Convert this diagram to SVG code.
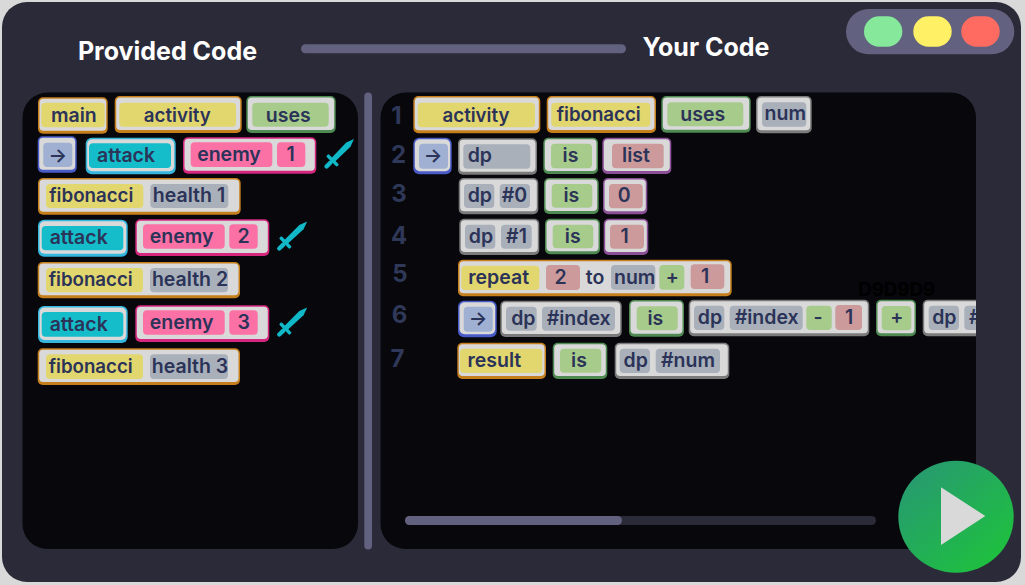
<svg xmlns="http://www.w3.org/2000/svg" width="1025" height="585" viewBox="0 0 1025 585">
<style>
text{font-family:Inter,"Liberation Sans",sans-serif;font-weight:600;font-size:19.5px;fill:#2b3358;text-anchor:middle}
.n{font-size:18.7px}
.title{fill:#fff;font-size:25px;font-weight:700}
.ln{fill:#2f3858;font-size:24px;font-weight:700}
.hex{fill:#000;font-size:18.7px;font-weight:700}
.face{fill:#d9d9d9}
.e-y{fill:#c67f1d}.e-g{fill:#4f8a52}.e-c{fill:#35b6dd}.e-p{fill:#d6277f}.e-s{fill:#7b7b7b}.e-b{fill:#4a5ac6}.e-r{fill:#8a4f96}
.y{fill:#e2d66e}.g{fill:#a7cb8a}.c{fill:#15bdca}.p{fill:#fb70a5}.s{fill:#a9b0ba}.b{fill:#9fb0d2}.r{fill:#cc9a9a}
.panel{fill:#07070c}.bar{fill:#62617f}
</style>
<defs>
<linearGradient id="play" x1="0.1" y1="0.1" x2="0.85" y2="0.9"><stop offset="0" stop-color="#279a70"/><stop offset="1" stop-color="#1ec03f"/></linearGradient>
<clipPath id="rightClip"><rect x="380.500" y="92" width="595.500" height="457" rx="25"/></clipPath>
<g id="sword" fill="#10b8c8"><path d="M10 -2.500L33 -3L41 0L33 3L10 2.500Z"/><rect x="9" y="-7.500" width="3.400" height="15" rx="1.200"/><rect x="0" y="-2.200" width="10" height="4.400" rx="2.200"/></g>
</defs>
<rect width="1025" height="585" fill="#d9d9d9"/>
<rect x="2" y="2" width="1019" height="580" rx="25" fill="#2b2a38"/>
<text class="title" x="167.500" y="60">Provided Code</text>
<rect class="bar" x="301" y="44.300" width="325" height="9" rx="4.500"/>
<text class="title" x="706" y="56">Your Code</text>
<g id="window-controls">
<rect class="bar" x="846" y="9" width="168.300" height="45.300" rx="22.600"/>
<rect x="864" y="16.300" width="38.300" height="30.400" rx="15.200" fill="#86e89a"/>
<rect x="913.300" y="16.300" width="38.400" height="30.400" rx="15.200" fill="#fff066"/>
<rect x="961.300" y="16.300" width="38.400" height="30.400" rx="15.200" fill="#ff6b60"/>
</g>
<rect class="panel" x="22.500" y="92.500" width="335.500" height="456.500" rx="25"/>
<rect class="bar" x="364.300" y="92.500" width="7.700" height="457" rx="3.800"/>
<rect class="panel" x="380.500" y="92.500" width="595.500" height="456.500" rx="25"/>
<g id="line-numbers">
<text class="ln" x="396.500" y="124">1</text><text class="ln" x="398.500" y="163.300">2</text><text class="ln" x="399" y="202">3</text><text class="ln" x="399" y="244">4</text><text class="ln" x="400" y="282.300">5</text><text class="ln" x="399.500" y="323.300">6</text><text class="ln" x="397.500" y="367">7</text>
</g>
<g id="connectors"/>
<g id="left-main"><rect class="e-y" x="38" y="97.300" width="69.700" height="36.400" rx="5"/><rect class="face" x="39.500" y="98.800" width="66.700" height="32" rx="4"/><rect class="y" x="41.300" y="102.700" width="63.400" height="24.600" rx="4"/><text x="73.800" y="122.300">main</text></g>
<g id="left-activity"><rect class="e-y" x="114.700" y="96" width="127" height="37" rx="5"/><rect class="face" x="116.200" y="97.500" width="124" height="32.500" rx="4"/><rect class="y" x="119.300" y="102.700" width="116.700" height="24" rx="4"/><text class="n" x="177.300" y="121.700">activity</text></g>
<g id="left-uses"><rect class="e-g" x="246.300" y="96" width="89.400" height="37" rx="5"/><rect class="face" x="247.800" y="97.500" width="86.400" height="32.500" rx="4"/><rect class="g" x="252.300" y="102.700" width="76.400" height="24" rx="4"/><text x="288.300" y="121.700">uses</text></g>
<g id="left-arrow"><rect class="e-b" x="37.700" y="136.300" width="39" height="36.400" rx="5"/><rect class="face" x="39.200" y="137.800" width="36" height="32" rx="4"/><rect class="b" x="43.300" y="142.700" width="29" height="24.300" rx="4"/><text x="57.800" y="161.500">→</text></g>
<g id="left-attack-1"><rect class="e-c" x="85.700" y="137.700" width="90" height="36.600" rx="6"/><rect class="face" x="87.200" y="139.200" width="87" height="32" rx="5"/><rect class="c" x="89" y="143.300" width="82" height="24.700" rx="4"/><text x="126" y="162">attack</text></g>
<g id="left-enemy-1"><rect class="e-p" x="183" y="137.300" width="133.300" height="36.400" rx="5"/><rect class="face" x="184.500" y="138.800" width="130.300" height="32" rx="4"/><rect class="p" x="190.700" y="142.300" width="81.600" height="24.700" rx="4"/><rect class="p" x="277" y="142.300" width="28.300" height="24.700" rx="4"/><text x="229" y="161">enemy</text><text x="290.500" y="161">1</text></g>
<use href="#sword" id="left-sword-1" transform="translate(325 168) rotate(-45)"/>
<g id="left-fib-1"><rect class="e-y" x="38" y="178" width="202.700" height="36.700" rx="5"/><rect class="face" x="39.500" y="179.500" width="199.700" height="32.200" rx="4"/><rect class="y" x="46" y="184" width="97.300" height="24" rx="4"/><rect class="s" x="150.300" y="184" width="78" height="24" rx="4"/><text class="n" x="91.300" y="202">fibonacci</text><text x="189" y="202">health 1</text></g>
<g id="left-attack-2"><rect class="e-c" x="38" y="219.700" width="89.700" height="37" rx="6"/><rect class="face" x="39.500" y="221.200" width="86.700" height="32.500" rx="5"/><rect class="c" x="41.700" y="226" width="81.600" height="24.300" rx="4"/><text x="78.700" y="244.300">attack</text></g>
<g id="left-enemy-2"><rect class="e-p" x="135.300" y="219.300" width="134" height="36.700" rx="5"/><rect class="face" x="136.800" y="220.800" width="131" height="32.200" rx="4"/><rect class="p" x="143" y="224.300" width="81.700" height="24.400" rx="4"/><rect class="p" x="229.300" y="224.300" width="28.400" height="24.400" rx="4"/><text x="181.700" y="242.700">enemy</text><text x="243.700" y="242.700">2</text></g>
<use href="#sword" id="left-sword-2" transform="translate(277.700 250) rotate(-44)"/>
<g id="left-fib-2"><rect class="e-y" x="37.700" y="262" width="202.300" height="36.300" rx="5"/><rect class="face" x="39.200" y="263.500" width="199.300" height="31.800" rx="4"/><rect class="y" x="46" y="268" width="97" height="24.300" rx="4"/><rect class="s" x="150" y="268" width="78" height="24.300" rx="4"/><text class="n" x="90.700" y="286">fibonacci</text><text x="190" y="286">health 2</text></g>
<g id="left-attack-3"><rect class="e-c" x="38" y="306" width="89.700" height="37" rx="6"/><rect class="face" x="39.500" y="307.500" width="86.700" height="32.500" rx="5"/><rect class="c" x="41.700" y="312" width="81.600" height="24.700" rx="4"/><text x="78.700" y="331">attack</text></g>
<g id="left-enemy-3"><rect class="e-p" x="135.300" y="305.300" width="134" height="36.700" rx="5"/><rect class="face" x="136.800" y="306.800" width="131" height="32.200" rx="4"/><rect class="p" x="143" y="310.300" width="81.700" height="24.400" rx="4"/><rect class="p" x="229.300" y="310.300" width="28.400" height="24.400" rx="4"/><text x="181.700" y="329">enemy</text><text x="243.700" y="329">3</text></g>
<use href="#sword" id="left-sword-3" transform="translate(277.700 336) rotate(-44)"/>
<g id="left-fib-3"><rect class="e-y" x="37.700" y="348.300" width="202.300" height="36.700" rx="5"/><rect class="face" x="39.200" y="349.800" width="199.300" height="32.200" rx="4"/><rect class="y" x="46" y="354.300" width="97" height="24.700" rx="4"/><rect class="s" x="150" y="354.300" width="78" height="24.700" rx="4"/><text class="n" x="90.700" y="373">fibonacci</text><text x="190" y="373">health 3</text></g>

<g id="r1-activity"><rect class="e-y" x="413.300" y="96" width="127" height="37.300" rx="5"/><rect class="face" x="414.800" y="97.500" width="124" height="32.800" rx="4"/><rect class="y" x="417.700" y="102.700" width="117.300" height="24.600" rx="4"/><text class="n" x="476" y="121.700">activity</text></g>
<g id="r1-fibonacci"><rect class="e-y" x="546.700" y="96" width="109.300" height="37" rx="5"/><rect class="face" x="548.200" y="97.500" width="106.300" height="32.500" rx="4"/><rect class="y" x="551.300" y="102.700" width="99" height="24" rx="4"/><text class="n" x="598.700" y="120.700">fibonacci</text></g>
<g id="r1-uses"><rect class="e-g" x="661.300" y="96" width="89.400" height="36.700" rx="5"/><rect class="face" x="662.800" y="97.500" width="86.400" height="32.200" rx="4"/><rect class="g" x="667.300" y="102.300" width="76" height="24" rx="4"/><text x="702.700" y="120.700">uses</text></g>
<g id="r1-num"><rect class="e-s" x="756" y="96" width="55.700" height="37.300" rx="5"/><rect class="face" x="757.500" y="97.500" width="52.700" height="32.800" rx="4"/><rect class="s" x="762" y="102.300" width="44.300" height="24.400" rx="4"/><text x="785.300" y="120">num</text></g>
<g id="r2-arrow"><rect class="e-b" x="413.300" y="137.700" width="38.400" height="36.600" rx="6"/><rect class="face" x="414.800" y="139.200" width="35.400" height="32.100" rx="5"/><rect class="b" x="419" y="143.700" width="29" height="25" rx="4"/><text x="433" y="162">→</text></g>
<g id="r2-dp"><rect class="e-s" x="458" y="138.300" width="79" height="36.400" rx="5"/><rect class="face" x="459.500" y="139.800" width="76" height="32" rx="4"/><rect class="s" x="463.300" y="144.300" width="67" height="24.400" rx="4"/><text x="479.800" y="161.700">dp</text></g>
<g id="r2-is"><rect class="e-g" x="543.300" y="137.700" width="54.700" height="36.300" rx="5"/><rect class="face" x="544.800" y="139.200" width="51.700" height="31.800" rx="4"/><rect class="g" x="551" y="143.700" width="41" height="24.600" rx="4"/><text x="570.500" y="161.700">is</text></g>
<g id="r2-list"><rect class="e-r" x="602.300" y="137.700" width="69" height="36.300" rx="5"/><rect class="face" x="603.800" y="139.200" width="66" height="31.800" rx="4"/><rect class="r" x="612" y="143.700" width="51.700" height="24.600" rx="4"/><text x="636" y="161.700">list</text></g>
<g id="r3-dp"><rect class="e-s" x="458.700" y="178" width="79.600" height="36.300" rx="5"/><rect class="face" x="460.200" y="179.500" width="76.600" height="31.800" rx="4"/><rect class="s" x="464" y="184" width="30.300" height="24" rx="4"/><rect class="s" x="499.700" y="184" width="30.300" height="24" rx="4"/><text x="479.800" y="202.300">dp</text><text x="514.500" y="202.300">#0</text></g>
<g id="r3-is"><rect class="e-g" x="544" y="178" width="54.700" height="36" rx="5"/><rect class="face" x="545.500" y="179.500" width="51.700" height="31.500" rx="4"/><rect class="g" x="551.700" y="184" width="40.600" height="23.700" rx="4"/><text x="571.300" y="202.300">is</text></g>
<g id="r3-zero"><rect class="e-r" x="603" y="178" width="44.300" height="36.300" rx="5"/><rect class="face" x="604.500" y="179.500" width="41.300" height="31.800" rx="4"/><rect class="r" x="609" y="184" width="33.700" height="24.300" rx="4"/><text x="624.300" y="202.300">0</text></g>
<g id="r4-dp"><rect class="e-s" x="459.300" y="218.700" width="80" height="36.300" rx="5"/><rect class="face" x="460.800" y="220.200" width="77" height="31.800" rx="4"/><rect class="s" x="465" y="224.700" width="30.300" height="24" rx="4"/><rect class="s" x="501" y="224.700" width="30.700" height="24" rx="4"/><text x="481" y="242.700">dp</text><text x="516.500" y="242.700">#1</text></g>
<g id="r4-is"><rect class="e-g" x="545" y="218.700" width="55" height="35.600" rx="5"/><rect class="face" x="546.500" y="220.200" width="52" height="31.100" rx="4"/><rect class="g" x="552.700" y="224.700" width="40.600" height="23.600" rx="4"/><text x="572.700" y="242.700">is</text></g>
<g id="r4-one"><rect class="e-r" x="603.700" y="218.700" width="44.600" height="36.300" rx="5"/><rect class="face" x="605.200" y="220.200" width="41.600" height="31.800" rx="4"/><rect class="r" x="610" y="224.700" width="34" height="24" rx="4"/><text x="624.500" y="242.700">1</text></g>
<g id="r5-repeat"><rect class="e-y" x="458" y="259.700" width="273.700" height="36.600" rx="5"/><rect class="face" x="459.500" y="261.200" width="270.700" height="32.100" rx="4"/><rect class="y" x="461.300" y="265.700" width="78" height="24.300" rx="4"/><rect class="r" x="546" y="265" width="34" height="25" rx="4"/><rect class="s" x="611" y="265" width="44.300" height="24.700" rx="4"/><rect class="g" x="659.300" y="265" width="25" height="24.700" rx="4"/><rect class="r" x="690.700" y="264.300" width="33.600" height="24.700" rx="4"/><text x="498.700" y="283.500">repeat</text><text x="560.700" y="283.500">2</text><text x="595" y="284.300">to</text><text x="634.700" y="283.500">num</text><text x="672.300" y="283.500">+</text><text x="705" y="282.500">1</text></g>
<g id="r6-arrow"><rect class="e-b" x="458" y="300.700" width="38.700" height="36.600" rx="6"/><rect class="face" x="459.500" y="302.200" width="35.700" height="32.100" rx="5"/><rect class="b" x="463.700" y="306.700" width="29" height="25" rx="4"/><text x="478" y="325">→</text></g>
<g id="r6-dp-index"><rect class="e-s" x="500.300" y="300.700" width="121.400" height="36.300" rx="5"/><rect class="face" x="501.800" y="302.200" width="118.400" height="31.800" rx="4"/><rect class="s" x="506" y="306.700" width="30.700" height="24" rx="4"/><rect class="s" x="542" y="306.700" width="73" height="24" rx="4"/><text x="523.300" y="324.500">dp</text><text x="578.700" y="324.500">#index</text></g>
<g id="r6-is"><rect class="e-g" x="629" y="300" width="55" height="36.700" rx="5"/><rect class="face" x="630.500" y="301.500" width="52" height="32.200" rx="4"/><rect class="g" x="636.700" y="306.300" width="41" height="24" rx="4"/><text x="655.300" y="324.500">is</text></g>
<g id="r6-dp-index-minus"><rect class="e-s" x="688.700" y="299.700" width="180.600" height="36.600" rx="5"/><rect class="face" x="690.200" y="301.200" width="177.600" height="32.100" rx="4"/><rect class="s" x="694" y="305.700" width="30.300" height="24.300" rx="4"/><rect class="s" x="729.700" y="305.700" width="73" height="24.300" rx="4"/><rect class="g" x="806.300" y="305.700" width="25.400" height="24.300" rx="4"/><rect class="r" x="835.300" y="305" width="26.700" height="25" rx="4"/><text x="710" y="324">dp</text><text x="766.700" y="324">#index</text><text x="818" y="324">-</text><text x="849" y="323.500">1</text></g>
<g id="r6-plus"><rect class="e-g" x="876" y="299.700" width="40" height="36.600" rx="5"/><rect class="face" x="877.500" y="301.200" width="37" height="32.100" rx="4"/><rect class="g" x="881.700" y="306" width="29.600" height="24.300" rx="4"/><text x="896.700" y="324">+</text></g>
<g id="r6-dp-clipped" clip-path="url(#rightClip)"><rect class="e-s" x="922.700" y="299.700" width="100" height="36.600" rx="5"/><rect class="face" x="924.200" y="301.200" width="97" height="32.100" rx="4"/><rect class="s" x="928.700" y="305.700" width="30.300" height="24.300" rx="4"/><rect class="s" x="964.300" y="305.700" width="73" height="24.300" rx="4"/><text x="944.300" y="324">dp</text><text x="1001" y="324">#index</text></g>
<text class="hex" x="896.700" y="296">D9D9D9</text>
<g id="r7-result"><rect class="e-y" x="457.300" y="342.700" width="88.700" height="36.300" rx="5"/><rect class="face" x="458.800" y="344.200" width="85.700" height="31.800" rx="4"/><rect class="y" x="460" y="348.700" width="82.300" height="24.300" rx="4"/><text x="494.300" y="366.700">result</text></g>
<g id="r7-is"><rect class="e-g" x="552.700" y="342.700" width="54.600" height="36.300" rx="5"/><rect class="face" x="554.200" y="344.200" width="51.600" height="31.800" rx="4"/><rect class="g" x="560" y="348.700" width="41.300" height="24" rx="4"/><text x="579" y="366.700">is</text></g>
<g id="r7-dp-num"><rect class="e-s" x="614.700" y="342.700" width="114.600" height="36.300" rx="5"/><rect class="face" x="616.200" y="344.200" width="111.600" height="31.800" rx="4"/><rect class="s" x="619.700" y="348.700" width="30.300" height="24.300" rx="4"/><rect class="s" x="655.700" y="348.700" width="64.300" height="24.300" rx="4"/><text x="635.700" y="366.700">dp</text><text x="688" y="366.700">#num</text></g>
<g id="scrollbar"><rect x="405" y="516" width="471" height="9" rx="4.500" fill="#2b2a38"/><rect class="bar" x="405" y="516" width="217" height="9" rx="4.500"/></g>
<g id="play-button"><ellipse cx="956" cy="516.700" rx="57.700" ry="56" fill="url(#play)"/><polygon points="941,487.300 985.300,516 941,545" fill="#d9d9d9"/></g>
</svg>
